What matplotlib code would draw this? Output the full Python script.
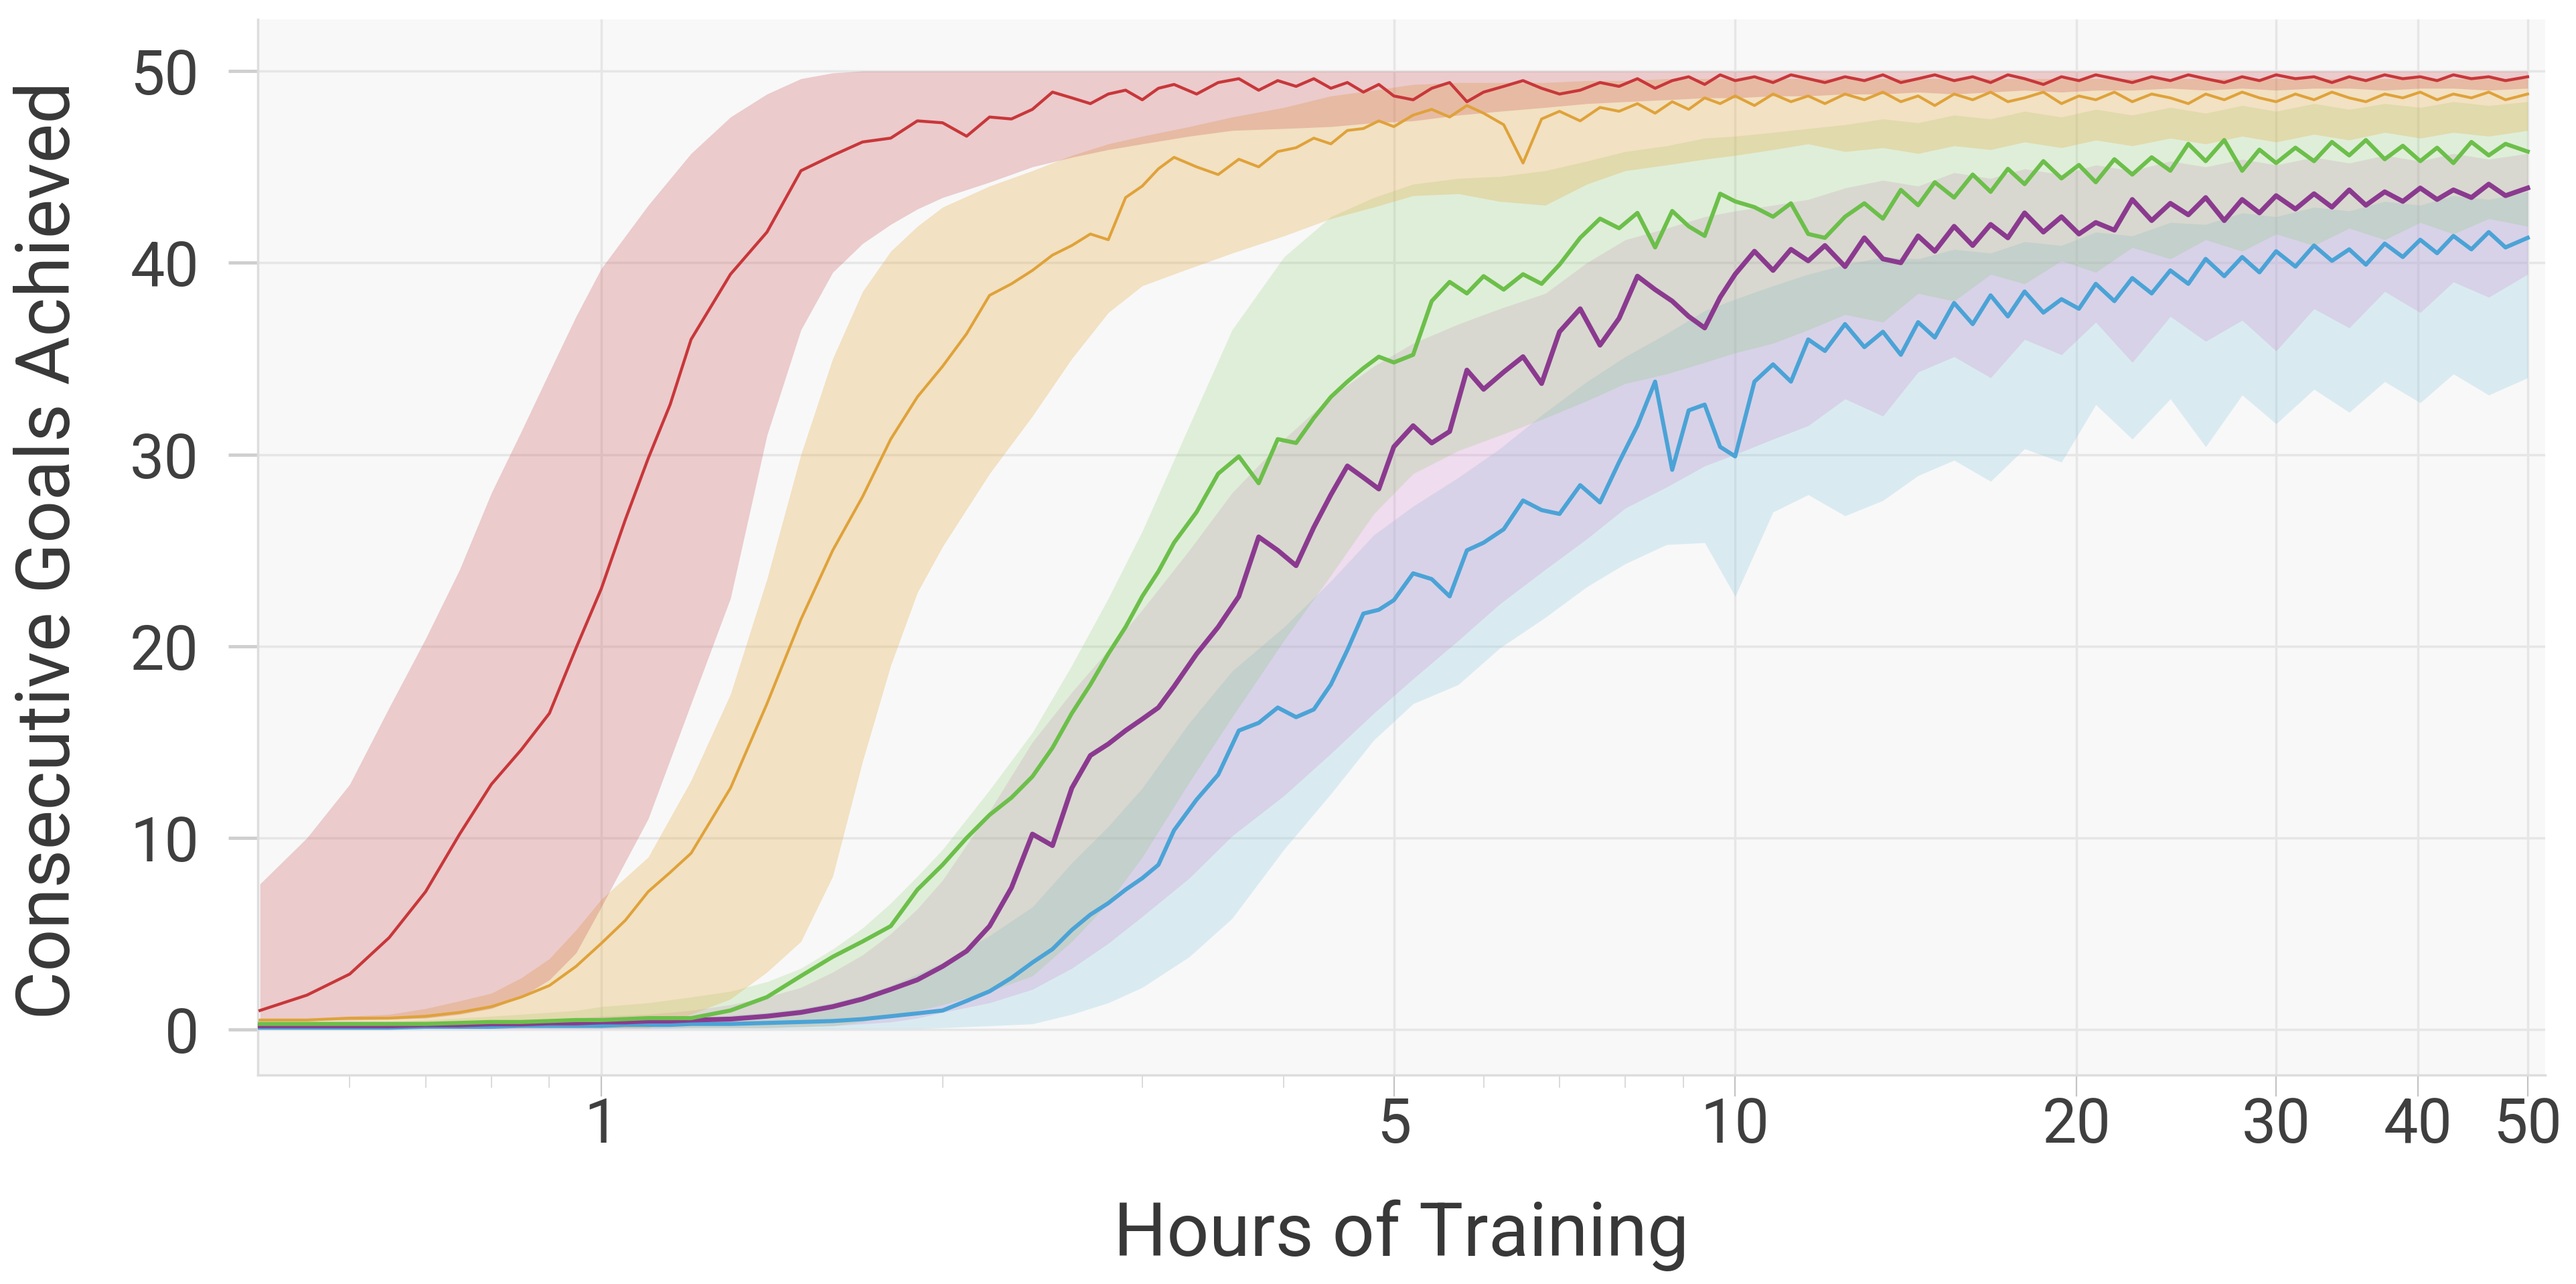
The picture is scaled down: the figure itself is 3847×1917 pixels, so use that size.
import matplotlib
matplotlib.use("Agg")
import matplotlib.pyplot as plt

plt.rcParams['font.family'] = ['Roboto', 'DejaVu Sans']

# hours of training (shared grid for the median curves)
hours = [0.5, 0.55, 0.6, 0.65, 0.7, 0.75, 0.8, 0.85, 0.9, 0.95, 1.0, 1.05, 1.1, 1.15, 1.2, 1.3, 1.4, 1.5, 1.6, 1.7, 1.8, 1.9, 2.0, 2.1, 2.2, 2.3, 2.4,
         2.5, 2.6, 2.7, 2.8, 2.9, 3.0, 3.1, 3.2, 3.35, 3.5, 3.65, 3.8, 3.95, 4.1, 4.25, 4.4, 4.55, 4.7, 4.85, 5.0, 5.2, 5.4, 5.6, 5.8, 6.0,
         6.25, 6.5, 6.75, 7.0, 7.3, 7.6, 7.9, 8.2, 8.5, 8.8, 9.1, 9.4, 9.7, 10.0, 10.4, 10.8, 11.2, 11.6,
         12, 12.5, 13, 13.5, 14, 14.5, 15, 15.6, 16.2, 16.8, 17.4, 18, 18.7, 19.4, 20.1, 20.8, 21.6, 22.4, 23.3, 24.2,
         25.1, 26, 27, 28, 29, 30, 31.2, 32.4, 33.6, 34.8, 36, 37.4, 38.8, 40.2, 41.6, 43, 44.6, 46.2, 47.8, 50]

red = [1.0, 1.8, 2.9, 4.8, 7.2, 10.2, 12.8, 14.6, 16.5, 19.9, 23.0, 26.6, 29.8, 32.6, 36.0, 39.4, 41.6, 44.8, 45.6, 46.3, 46.5, 47.4, 47.3, 46.6, 47.6, 47.5, 48.0,
       48.9, 48.6, 48.3, 48.8, 49.0, 48.5, 49.1, 49.3, 48.8, 49.4, 49.6, 49.0, 49.5, 49.2, 49.6, 49.1, 49.4, 48.9, 49.3, 48.7, 48.5, 49.1, 49.4, 48.4, 48.9,
       49.2, 49.5, 49.1, 48.8, 49.0, 49.4, 49.2, 49.6, 49.1, 49.5, 49.7, 49.3, 49.8, 49.5, 49.7, 49.4, 49.8, 49.6,
       49.4, 49.7, 49.5, 49.8, 49.4, 49.6, 49.8, 49.5, 49.7, 49.4, 49.8, 49.6, 49.3, 49.7, 49.5, 49.8, 49.6, 49.4, 49.7, 49.5,
       49.8, 49.6, 49.4, 49.7, 49.5, 49.8, 49.6, 49.7, 49.4, 49.7, 49.5, 49.8, 49.6, 49.7, 49.5, 49.8, 49.6, 49.7, 49.5, 49.7]
orange = [0.5, 0.5, 0.6, 0.6, 0.7, 0.9, 1.2, 1.7, 2.3, 3.3, 4.5, 5.7, 7.2, 8.2, 9.2, 12.6, 17.0, 21.4, 25.0, 27.8, 30.8, 33.0, 34.6, 36.3, 38.3, 38.9, 39.6,
          40.4, 40.9, 41.5, 41.2, 43.4, 44.0, 44.9, 45.5, 45.0, 44.6, 45.4, 45.0, 45.8, 46.0, 46.5, 46.2, 46.9, 47.0, 47.4, 47.1, 47.7, 48.0, 47.6, 48.2, 47.8,
          47.2, 45.2, 47.5, 47.9, 47.4, 48.1, 47.9, 48.3, 47.8, 48.4, 48.0, 48.6, 48.3, 48.7, 48.2, 48.8, 48.4, 48.7,
          48.3, 48.8, 48.5, 48.9, 48.4, 48.7, 48.2, 48.8, 48.5, 48.9, 48.4, 48.6, 48.9, 48.3, 48.7, 48.5, 48.9, 48.4, 48.8, 48.6,
          48.3, 48.8, 48.5, 48.9, 48.6, 48.4, 48.8, 48.5, 48.9, 48.6, 48.4, 48.8, 48.6, 48.9, 48.5, 48.8, 48.6, 48.9, 48.5, 48.8]
green = [0.3, 0.3, 0.3, 0.3, 0.3, 0.35, 0.4, 0.4, 0.45, 0.5, 0.5, 0.55, 0.6, 0.6, 0.6, 1.0, 1.7, 2.8, 3.8, 4.6, 5.4, 7.3, 8.6, 10.0, 11.2, 12.1, 13.2,
         14.7, 16.5, 18.0, 19.6, 21.0, 22.6, 23.9, 25.4, 27.0, 29.0, 29.9, 28.5, 30.8, 30.6, 31.9, 33.0, 33.8, 34.5, 35.1, 34.8, 35.2, 38.0, 39.0, 38.4, 39.3,
         38.6, 39.4, 38.9, 39.9, 41.3, 42.3, 41.8, 42.6, 40.8, 42.7, 41.9, 41.4, 43.6, 43.2, 42.9, 42.4, 43.1, 41.5,
         41.3, 42.4, 43.1, 42.3, 43.8, 43.0, 44.2, 43.4, 44.6, 43.7, 44.9, 44.1, 45.3, 44.4, 45.1, 44.2, 45.4, 44.6, 45.5, 44.8,
         46.2, 45.3, 46.4, 44.8, 45.9, 45.2, 46.0, 45.3, 46.3, 45.6, 46.4, 45.4, 46.1, 45.3, 46.0, 45.2, 46.3, 45.6, 46.2, 45.8]
purple = [0.2, 0.2, 0.2, 0.2, 0.25, 0.25, 0.3, 0.3, 0.35, 0.35, 0.4, 0.4, 0.45, 0.45, 0.5, 0.55, 0.7, 0.9, 1.2, 1.6, 2.1, 2.6, 3.3, 4.1, 5.4, 7.4, 10.2,
          9.6, 12.6, 14.3, 14.9, 15.6, 16.2, 16.8, 17.9, 19.6, 21.0, 22.6, 25.7, 25.0, 24.2, 26.2, 27.9, 29.4, 28.8, 28.2, 30.4, 31.5, 30.6, 31.2, 34.4, 33.4,
          34.3, 35.1, 33.7, 36.4, 37.6, 35.7, 37.1, 39.3, 38.6, 38.0, 37.2, 36.6, 38.2, 39.4, 40.6, 39.6, 40.7, 40.1,
          40.9, 39.8, 41.3, 40.2, 40.0, 41.4, 40.6, 41.9, 40.9, 42.0, 41.3, 42.6, 41.6, 42.4, 41.5, 42.1, 41.7, 43.3, 42.2, 43.1,
          42.5, 43.4, 42.2, 43.3, 42.6, 43.5, 42.8, 43.6, 42.9, 43.8, 43.0, 43.7, 43.2, 43.9, 43.3, 43.8, 43.4, 44.1, 43.5, 43.9]
blue = [0.1, 0.1, 0.1, 0.1, 0.15, 0.15, 0.15, 0.2, 0.2, 0.2, 0.2, 0.25, 0.25, 0.25, 0.3, 0.3, 0.35, 0.4, 0.45, 0.55, 0.7, 0.85, 1.0, 1.5, 2.0, 2.7, 3.5,
        4.2, 5.2, 6.0, 6.6, 7.3, 7.9, 8.6, 10.4, 12.0, 13.3, 15.6, 16.0, 16.8, 16.3, 16.7, 18.0, 19.8, 21.7, 21.9, 22.4, 23.8, 23.5, 22.6, 25.0, 25.4,
        26.1, 27.6, 27.1, 26.9, 28.4, 27.5, 29.6, 31.5, 33.8, 29.2, 32.3, 32.6, 30.4, 29.9, 33.8, 34.7, 33.8, 36.0,
        35.4, 36.8, 35.6, 36.4, 35.2, 36.9, 36.1, 37.9, 36.8, 38.3, 37.2, 38.5, 37.4, 38.1, 37.6, 38.9, 38.0, 39.2, 38.4, 39.6,
        38.9, 40.2, 39.3, 40.3, 39.5, 40.6, 39.8, 40.9, 40.1, 40.7, 39.9, 41.0, 40.3, 41.2, 40.5, 41.4, 40.7, 41.6, 40.8, 41.3]

# spread bands (coarser grid)
band_hours = [0.5, 0.55, 0.6, 0.65, 0.7, 0.75, 0.8, 0.85, 0.9, 0.95,
              1.0, 1.1, 1.2, 1.3, 1.4, 1.5, 1.6, 1.7, 1.8, 1.9,
              2.0, 2.2, 2.4, 2.6, 2.8, 3.0, 3.3, 3.6, 4.0, 4.4,
              4.8, 5.2, 5.7, 6.2, 6.8, 7.4, 8.0, 8.7, 9.4, 10.0,
              10.8, 11.6, 12.5, 13.5, 14.5, 15.6, 16.8, 18, 19.4, 20.8,
              22.4, 24.2, 26, 28, 30, 32.4, 34.8, 37.4, 40.2, 43,
              46.2, 50]

red_hi = [7.6, 10.0, 12.8, 16.8, 20.4, 24.0, 28.0, 31.2, 34.3, 37.2,
          39.7, 43.0, 45.7, 47.6, 48.8, 49.6, 49.9, 50.0, 50.0, 50.0,
          50.0, 50.0, 50.0, 50.0, 50.0, 50.0, 50.0, 50.0, 50.0, 50.0,
          50.0, 50.0, 50.0, 50.0, 50.0, 50.0, 50.0, 50.0, 50.0, 50.0,
          50.0, 50.0, 50.0, 50.0, 50.0, 50.0, 50.0, 50.0, 50.0, 50.0,
          50.0, 50.0, 50.0, 50.0, 50.0, 50.0, 50.0, 50.0, 50.0, 50.0,
          50.0, 50.0]
red_lo = [0.5, 0.5, 0.5, 0.55, 0.6, 0.8, 1.1, 1.7, 2.6, 4.0,
          6.4, 11.0, 17.0, 22.5, 31.0, 36.5, 39.5, 41.0, 42.0, 42.8,
          43.4, 44.2, 45.0, 45.5, 45.9, 46.2, 46.6, 46.9, 47.0, 47.1,
          47.3, 47.4, 47.7, 47.9, 48.1, 48.3, 48.4, 48.5, 48.6, 48.6,
          48.7, 48.7, 48.8, 48.8, 48.9, 48.8, 48.9, 49.0, 48.9, 49.0,
          49.0, 49.1, 49.0, 49.1, 49.0, 49.1, 49.1, 49.0, 49.1, 49.1,
          49.0, 49.1]
orange_hi = [0.6, 0.6, 0.7, 0.8, 1.1, 1.5, 1.9, 2.7, 3.7, 5.2,
             6.8, 9.0, 13.0, 17.5, 23.5, 30.0, 35.0, 38.5, 40.6, 41.9,
             42.9, 44.0, 44.8, 45.6, 46.2, 46.6, 47.1, 47.6, 48.1, 48.7,
             49.0, 49.3, 49.4, 49.4, 49.4, 49.5, 49.5, 49.6, 49.6, 49.6,
             49.6, 49.6, 49.6, 49.6, 49.6, 49.6, 49.6, 49.6, 49.6, 49.6,
             49.6, 49.6, 49.6, 49.6, 49.6, 49.6, 49.6, 49.6, 49.6, 49.6,
             49.6, 49.6]
orange_lo = [0.1, 0.1, 0.1, 0.1, 0.1, 0.1, 0.1, 0.1, 0.1, 0.1,
             0.1, 0.1, 0.8, 1.6, 3.0, 4.6, 8.0, 14.0, 19.0, 22.8,
             25.2, 29.0, 32.0, 35.0, 37.4, 38.8, 39.7, 40.5, 41.4, 42.3,
             42.9, 43.5, 43.6, 43.2, 43.0, 44.1, 44.8, 45.1, 45.4, 45.6,
             45.9, 46.2, 45.8, 46.0, 45.7, 46.1, 45.9, 46.3, 46.0, 46.4,
             46.1, 46.5, 46.2, 46.6, 46.3, 46.7, 46.4, 46.8, 46.5, 46.8,
             46.6, 46.9]
green_hi = [0.3, 0.3, 0.35, 0.4, 0.5, 0.6, 0.7, 0.8, 0.9, 1.0,
            1.2, 1.4, 1.7, 2.0, 2.5, 3.2, 4.2, 5.3, 6.6, 8.0,
            9.4, 12.5, 15.5, 19.0, 22.5, 26.0, 31.5, 36.5, 40.3, 42.4,
            43.4, 44.1, 44.4, 44.5, 44.8, 45.3, 45.8, 46.1, 46.5, 46.6,
            46.8, 47.0, 47.2, 47.5, 47.3, 47.7, 47.5, 47.9, 47.6, 48.0,
            47.7, 48.1, 47.8, 48.2, 47.9, 48.3, 48.0, 48.3, 48.1, 48.4,
            48.2, 48.4]
green_lo = [0.1, 0.1, 0.1, 0.1, 0.1, 0.1, 0.1, 0.1, 0.1, 0.1,
            0.1, 0.1, 0.1, 0.1, 0.1, 0.15, 0.2, 0.4, 0.7, 1.0,
            1.3, 2.0, 2.8, 4.6, 6.6, 9.0, 12.9, 16.3, 20.3, 23.7,
            26.9, 29.0, 30.2, 31.0, 31.9, 32.8, 33.7, 34.2, 34.8, 35.3,
            35.8, 36.5, 37.3, 36.9, 38.4, 38.0, 39.4, 38.9, 40.1, 39.5,
            40.8, 40.2, 41.2, 40.6, 41.5, 40.9, 41.8, 41.2, 42.1, 41.5,
            42.3, 41.9]
purple_hi = [0.25, 0.25, 0.3, 0.3, 0.35, 0.4, 0.45, 0.5, 0.55, 0.6,
             0.7, 0.8, 1.0, 1.3, 1.7, 2.2, 3.0, 3.9, 5.0, 6.3,
             7.8, 11.4, 15.0, 17.6, 19.8, 21.9, 25.0, 28.0, 30.8, 33.0,
             34.6, 35.8, 36.8, 37.6, 38.4, 40.0, 41.2, 41.8, 42.4, 42.7,
             43.0, 43.3, 43.9, 44.3, 44.0, 44.7, 44.4, 44.9, 44.6, 45.1,
             44.8, 45.3, 45.0, 45.4, 45.1, 45.5, 45.2, 45.6, 45.3, 45.7,
             45.4, 45.7]
purple_lo = [0.05, 0.05, 0.05, 0.05, 0.05, 0.05, 0.05, 0.05, 0.05, 0.05,
             0.05, 0.05, 0.1, 0.1, 0.1, 0.15, 0.2, 0.3, 0.4, 0.6,
             0.9, 1.4, 2.1, 3.2, 4.5, 5.9, 7.9, 10.1, 12.2, 14.4,
             16.5, 18.3, 20.3, 22.2, 24.0, 25.6, 27.2, 28.3, 29.4, 30.0,
             30.8, 31.5, 32.9, 32.0, 34.3, 35.1, 34.0, 36.0, 35.2, 36.9,
             34.8, 37.2, 35.9, 37.0, 35.4, 37.6, 36.6, 38.5, 37.4, 39.0,
             38.2, 39.4]
blue_hi = [0.15, 0.15, 0.15, 0.2, 0.2, 0.25, 0.25, 0.3, 0.35, 0.4,
           0.45, 0.5, 0.6, 0.75, 0.9, 1.1, 1.4, 1.8, 2.3, 2.9,
           3.5, 4.9, 6.4, 8.7, 10.6, 12.6, 16.0, 18.7, 21.0, 23.4,
           25.8, 27.3, 28.8, 30.3, 32.2, 33.8, 35.1, 36.3, 37.5, 38.1,
           38.8, 39.4, 39.9, 40.3, 40.2, 40.7, 40.5, 41.1, 40.9, 41.6,
           41.4, 42.1, 42.0, 42.6, 42.4, 42.9, 42.7, 43.2, 43.0, 43.5,
           43.3, 43.7]
blue_lo = [0.05, 0.05, 0.05, 0.05, 0.05, 0.05, 0.05, 0.05, 0.05, 0.05,
           0.05, 0.05, 0.05, 0.05, 0.05, 0.05, 0.05, 0.05, 0.05, 0.05,
           0.1, 0.2, 0.3, 0.8, 1.4, 2.2, 3.8, 5.8, 9.4, 12.3,
           15.1, 17.0, 18.0, 19.9, 21.5, 23.1, 24.3, 25.3, 25.4, 22.6,
           27.0, 27.9, 26.8, 27.6, 28.9, 29.7, 28.6, 30.3, 29.6, 32.6,
           30.8, 32.9, 30.4, 33.1, 31.6, 33.4, 32.2, 33.8, 32.7, 34.2,
           33.1, 34.0]

# (median, lower, upper, line colour, fill colour, fill alpha, line width)
series = [
    (red, red_lo, red_hi, '#c8373a', '#c8474a', 0.25, 3.2),
    (orange, orange_lo, orange_hi, '#dfa23a', '#e6ac48', 0.3, 3.0),
    (green, green_lo, green_hi, '#6cbf4a', '#7cc85a', 0.2, 4.4),
    (purple, purple_lo, purple_hi, '#8b3a8f', '#d27ccb', 0.22, 5.2),
    (blue, blue_lo, blue_hi, '#4ba3d6', '#8ccbe2', 0.28, 4.4),
]

fig = plt.figure(figsize=(38.47, 19.17), dpi=100)
ax = fig.add_axes([0.100, 0.163, 0.888, 0.822])
ax.set_facecolor('#f8f8f8')

# bands from the slowest run upwards, then the mean curves on top
for med, lo, hi, col, fcol, a, lw in reversed(series):
    ax.fill_between(band_hours, lo, hi, color=fcol, alpha=a, linewidth=0, zorder=2)
for med, lo, hi, col, fcol, a, lw in reversed(series):
    ax.plot(hours, med, color=col, linewidth=lw, zorder=3)

ax.set_xscale('log')
ax.set_xlim(0.4976, 51.8)
ax.set_ylim(-2.35, 52.7)

ax.set_xticks([1, 5, 10, 20, 30, 40, 50], ['1', '5', '10', '20', '30', '40', '50'])
ax.set_xticks([0.6, 0.7, 0.8, 0.9, 2, 3, 4, 6, 7, 8, 9], minor=True)
ax.xaxis.set_minor_formatter(matplotlib.ticker.NullFormatter())
ax.set_yticks([0, 10, 20, 30, 40, 50])

ax.tick_params(axis='x', which='major', length=23, width=1.6, color='#c4c4c4',
               labelsize=66, labelcolor='#3f3f3f', pad=0)
ax.tick_params(axis='x', which='minor', length=14, width=1.4, color='#dadada')
ax.tick_params(axis='y', length=32, width=3.5, color='#cfcfcf',
               labelsize=66, labelcolor='#3f3f3f', pad=31)

ax.grid(True, which='major', color='#e6e6e6', linewidth=2.5, zorder=0)
ax.set_axisbelow(True)
for s in ['top', 'right']:
    ax.spines[s].set_visible(False)
for s in ['left', 'bottom']:
    ax.spines[s].set_color('#dddddd')
    ax.spines[s].set_linewidth(2.5)

ax.set_xlabel('Hours of Training', fontsize=80, color='#383838', va='center')
ax.set_ylabel('Consecutive Goals Achieved', fontsize=80, color='#383838', va='center')
ax.xaxis.set_label_coords(0.5, -0.152)
ax.yaxis.set_label_coords(-0.091, 0.497)

fig.savefig('out.png', dpi=100, facecolor='white')
